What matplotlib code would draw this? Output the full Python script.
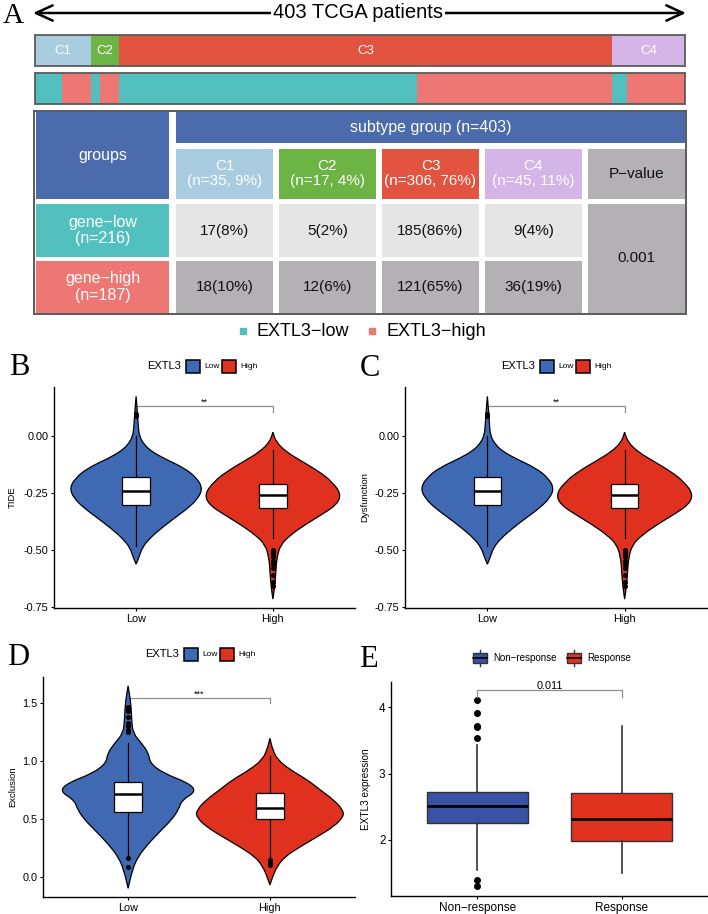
import matplotlib.pyplot as plt
from matplotlib.patches import Rectangle, PathPatch
from matplotlib.path import Path

plt.rcParams['font.family'] = ['Liberation Sans', 'DejaVu Sans']
plt.rcParams['axes.unicode_minus'] = False

# ---------------- panel A: subtype vs EXTL3 group
subtypes = ['C1', 'C2', 'C3', 'C4']
low_counts = [17, 5, 185, 9]
high_counts = [18, 12, 121, 36]
p_value = '0.001'

# ---------------- panels B / C: TIDE and Dysfunction (same shapes in figure)
groups = ['Low', 'High']
tide_low_y = [0.173, 0.10, 0.05, 0.0, -0.04, -0.069, -0.098, -0.142, -0.186, -0.230,
              -0.273, -0.317, -0.361, -0.405, -0.449, -0.49, -0.53, -0.563]
tide_low_dens = [0, .02, .03, .045, .12, .23, .40, .71, .89, .97,
                 .91, .76, .56, .37, .2, .09, .045, 0]
tide_high_y = [0.016, -0.025, -0.069, -0.113, -0.156, -0.200, -0.256, -0.303,
               -0.346, -0.390, -0.434, -0.478, -0.537, -0.595, -0.654, -0.716]
tide_high_dens = [0, .043, .186, .43, .67, .86, 1.0, .93, .71, .47, .26, .11, .057, .043, .029, 0]
tide_box_low = [-0.485, -0.303, -0.240, -0.181, 0.0]    # whislo, q1, med, q3, whishi
tide_box_high = [-0.449, -0.317, -0.260, -0.212, -0.061]
tide_out_low = [0.085, 0.095]
tide_out_high = [-0.50, -0.51, -0.52, -0.53, -0.55, -0.56, -0.58, -0.61, -0.64, -0.66]

# ---------------- panel D: Exclusion
excl_low_y = [1.65, 1.5, 1.356, 1.24, 1.154, 1.067, 0.981, 0.894, 0.808, 0.736,
              0.664, 0.577, 0.490, 0.404, 0.289, 0.173, 0.058, -0.101]
excl_low_dens = [0, .04, .05, .07, .19, .29, .31, .5, .86, .96,
                 .76, .71, .61, .47, .29, .14, .06, 0]
excl_high_y = [1.197, 1.096, 1.010, 0.923, 0.837, 0.750, 0.664, 0.577,
               0.519, 0.433, 0.346, 0.260, 0.173, 0.087, 0.0, -0.072]
excl_high_dens = [0, .04, .11, .29, .53, .71, .9, 1.03, 1.04, .9, .67, .43, .21, .1, .04, 0]
excl_box_low = [0.18, 0.557, 0.713, 0.822, 1.154]
excl_box_high = [0.173, 0.496, 0.597, 0.727, 1.04]
excl_out_low = [1.25, 1.27, 1.30, 1.33, 1.38, 1.43, 1.45, 1.47, 0.159, 0.08]
excl_out_high = [0.14, 0.13, 0.115, 0.10]

# ---------------- panel E: EXTL3 expression by response
resp_groups = ['Non\u2212response', 'Response']
resp_box_non = [1.548, 2.251, 2.513, 2.729, 3.43]
resp_box_res = [1.50, 1.985, 2.312, 2.709, 3.72]
resp_out_non = [4.11, 3.92, 3.72, 3.70, 3.53, 1.39, 1.31]
resp_out_res = []

# colours
teal, salmon = '#52C0BE', '#EE7773'
head_blue = '#4B6BAC'
sub_colors = ['#A9CCE0', '#6CB444', '#E25340', '#D5B4E7']
light_gray, mid_gray = '#E6E5E6', '#B3B1B3'
vio_blue, vio_red = '#3F69B3', '#E0301E'
box_blue, box_red = '#3A52A5', '#E0321F'

fig = plt.figure(figsize=(7.08, 9.14), dpi=100)
W, H = 708, 914
ov = fig.add_axes([0, 0, 1, 1])
ov.set_xlim(0, W)
ov.set_ylim(H, 0)
ov.axis('off')


def px_axes(l, t, r, b):
    return fig.add_axes([l / W, 1 - b / H, (r - l) / W, (b - t) / H])


# panel letters
for lab, x, y, fs in [('A', 3, 23, 21), ('B', 9, 375, 22), ('C', 360, 376, 22),
                      ('D', 7, 665, 22), ('E', 359, 667, 22)]:
    ov.text(x, y, lab, family='Liberation Serif', fontsize=fs, va='baseline', ha='left')

# ---- panel A
tot = [a + b for a, b in zip(low_counts, high_counts)]
N = sum(tot)
n_low, n_high = sum(low_counts), sum(high_counts)
bx0, bx1 = 35, 685
scale = (bx1 - bx0) / N

ov.annotate('', xy=(33, 13), xytext=(686, 13),
            arrowprops=dict(arrowstyle='<->,head_length=1.2,head_width=0.55', lw=1.8,
                            color='black', shrinkA=0, shrinkB=0, mutation_scale=10))
ov.text(358, 13, f'{N} TCGA patients', ha='center', va='center', fontsize=14.5,
        bbox=dict(fc='white', ec='none', pad=1.5))

left = bx0
for name, lo, n, col in zip(subtypes, low_counts, tot, sub_colors):
    ov.add_patch(Rectangle((left, 35), n * scale, 31, fc=col, ec='none'))
    ov.text(left + n * scale / 2, 51, name, color='white', ha='center', va='center', fontsize=9.5)
    ov.add_patch(Rectangle((left, 73), lo * scale, 31, fc=teal, ec='none'))
    ov.add_patch(Rectangle((left + lo * scale, 73), (n - lo) * scale, 31, fc=salmon, ec='none'))
    left += n * scale
for y in (35, 73):
    ov.add_patch(Rectangle((bx0, y), bx1 - bx0, 31, fill=False, ec='#5a5a5a', lw=1.3))


def cell(x, y, w, h, col, lines, tc, dy=7.5, fs=11):
    ov.add_patch(Rectangle((x, y), w, h, fc=col, ec='none'))
    cy = y + h / 2
    offs = [0] if len(lines) == 1 else [-dy, dy]
    for t, o in zip(lines, offs):
        ov.text(x + w / 2, cy + o, t, ha='center', va='center', color=tc, fontsize=fs)


ov.add_patch(Rectangle((34, 111), 652, 203, fill=False, ec='#4d4d4d', lw=1.3))
cell(36, 112, 133, 87, head_blue, ['groups'], 'white', fs=11.5)
cell(176, 112, 509, 31, head_blue, [f'subtype group (n={N})'], 'white', fs=11.5)
cols_x = [176 + 103 * i for i in range(4)]
for i, (x, name, n, col) in enumerate(zip(cols_x, subtypes, tot, sub_colors)):
    cell(x, 149, 97, 50, col, [name, f'(n={n}, {round(100 * n / N)}%)'], 'white')
    lo, hi = low_counts[i], high_counts[i]
    cell(x, 204, 97, 53, light_gray, [f'{lo}({round(100 * lo / n_low)}%)'], '#111')
    cell(x, 261, 97, 52, mid_gray, [f'{hi}({round(100 * hi / n_high)}%)'], '#111')
cell(588, 149, 97, 50, mid_gray, ['P\u2212value'], '#111')
cell(588, 204, 97, 109, mid_gray, [p_value], '#111')
cell(36, 204, 133, 53, teal, ['gene\u2212low', f'(n={n_low})'], 'white', dy=8.5, fs=11.5)
cell(36, 261, 133, 52, salmon, ['gene\u2212high', f'(n={n_high})'], 'white', dy=8.5, fs=11.5)

ov.plot([243], [331], 's', color=teal, ms=5)
ov.text(257, 331, 'EXTL3\u2212low', va='center', fontsize=13)
ov.plot([372], [331], 's', color=salmon, ms=5)
ov.text(386, 331, 'EXTL3\u2212high', va='center', fontsize=13)


# ---- legend rows for B-D
def group_legend(L, yc):
    ov.text(L, yc, 'EXTL3', va='center', fontsize=8)
    for dx, col, lab in [(39, vio_blue, groups[0]), (75, vio_red, groups[1])]:
        ov.add_patch(Rectangle((L + dx, yc - 6.5), 14, 13, fc=col, ec='black', lw=1.1))
        ov.text(L + dx + 18, yc, lab, va='center', fontsize=6)


def stats(b, fl):
    return dict(whislo=b[0], q1=b[1], med=b[2], q3=b[3], whishi=b[4], fliers=fl)


def style(ax, fs):
    for s in ('top', 'right'):
        ax.spines[s].set_visible(False)
    for s in ('left', 'bottom'):
        ax.spines[s].set_linewidth(1.0)
    ax.tick_params(length=2.5, width=0.8, labelsize=fs, pad=1.5, colors='black')
    ax.set_xlim(0.4, 2.6)


def smooth_outline(pos, y, d):
    # closed outline (right side down, left side up) drawn as quadratic curves
    w = [0.5 * v for v in d]
    pts = [(pos + a, b) for a, b in zip(w, y)] + [(pos - a, b) for a, b in zip(w[::-1], y[::-1])]
    mids = [((pts[k][0] + pts[k + 1][0]) / 2, (pts[k][1] + pts[k + 1][1]) / 2)
            for k in range(len(pts) - 1)]
    verts = [pts[0], mids[0]]
    codes = [Path.MOVETO, Path.LINETO]
    for k in range(1, len(pts) - 1):
        verts += [pts[k], mids[k]]
        codes += [Path.CURVE3, Path.CURVE3]
    verts += [pts[-1], pts[0]]
    codes += [Path.LINETO, Path.CLOSEPOLY]
    return Path(verts, codes)


def violin_panel(ax, vy, vd, boxes, outs, ylim, ticks, ticklabels, ylabel, lab_x, sig, sig_y, tip_y):
    for pos, y, d, col in zip([1, 2], vy, vd, [vio_blue, vio_red]):
        ax.add_patch(PathPatch(smooth_outline(pos, y, d), facecolor=col,
                               edgecolor='black', lw=0.9, zorder=1))
    ax.bxp([stats(b, o) for b, o in zip(boxes, outs)], positions=[1, 2], widths=0.2,
           patch_artist=True, showcaps=False,
           boxprops=dict(facecolor='white', edgecolor='black', lw=0.9),
           medianprops=dict(color='black', lw=1.8),
           whiskerprops=dict(color='black', lw=0.9),
           flierprops=dict(marker='o', mfc='black', mec='black', ms=2.6), zorder=2)
    ax.plot([1, 1, 2, 2], [tip_y, sig_y, sig_y, tip_y], color='#8f8f8f', lw=0.9, zorder=0)
    ax.text(1.5, sig_y + (ylim[1] - ylim[0]) * 0.006, sig, ha='center', va='baseline', fontsize=6.5)
    ax.set_ylim(*ylim)
    ax.set_yticks(ticks)
    ax.set_yticklabels(ticklabels)
    ax.set_xticks([1, 2])
    ax.set_xticklabels(groups)
    ax.set_ylabel(ylabel, fontsize=6.8)
    ax.yaxis.set_label_coords(lab_x, 0.5)
    style(ax, 7.8)


tide_ticks = [0.0, -0.25, -0.50, -0.75]
tide_labels = ['0.00', '-0.25', '-0.50', '-0.75']

axB = px_axes(54, 387, 355, 608)
violin_panel(axB, [tide_low_y, tide_high_y], [tide_low_dens, tide_high_dens],
             [tide_box_low, tide_box_high], [tide_out_low, tide_out_high],
             (-0.755, 0.214), tide_ticks, tide_labels, 'TIDE', -0.123, '**', 0.131, 0.105)
group_legend(147, 366)

axC = px_axes(405, 387, 707, 608)
violin_panel(axC, [tide_low_y, tide_high_y], [tide_low_dens, tide_high_dens],
             [tide_box_low, tide_box_high], [tide_out_low, tide_out_high],
             (-0.755, 0.214), tide_ticks, tide_labels, 'Dysfunction', -0.119, '**', 0.131, 0.105)
group_legend(501, 366)

axD = px_axes(43, 677, 355, 897)
violin_panel(axD, [excl_low_y, excl_high_y], [excl_low_dens, excl_high_dens],
             [excl_box_low, excl_box_high], [excl_out_low, excl_out_high],
             (-0.176, 1.727), [0.0, 0.5, 1.0, 1.5], ['0.0', '0.5', '1.0', '1.5'],
             'Exclusion', -0.083, '***', 1.543, 1.50)
group_legend(145, 654)

# ---- panel E
axE = px_axes(391, 682, 708, 896)
bp = axE.bxp([stats(resp_box_non, resp_out_non), stats(resp_box_res, resp_out_res)],
             positions=[1, 2], widths=0.7, patch_artist=True, showcaps=False,
             boxprops=dict(edgecolor='#333333', lw=1.0),
             medianprops=dict(color='black', lw=2.0),
             whiskerprops=dict(color='#333333', lw=1.2),
             flierprops=dict(marker='o', mfc='black', mec='black', ms=4))
for patch, col in zip(bp['boxes'], [box_blue, box_red]):
    patch.set_facecolor(col)
axE.plot([1, 1, 2, 2], [4.16, 4.26, 4.26, 4.16], color='#8f8f8f', lw=0.9)
axE.text(1.5, 4.275, '0.011', ha='center', va='baseline', fontsize=7.8)
axE.set_ylim(1.155, 4.38)
axE.set_yticks([2, 3, 4])
axE.set_xticks([1, 2])
axE.set_xticklabels(resp_groups)
axE.set_ylabel('EXTL3 expression', fontsize=7.2)
axE.yaxis.set_label_coords(-0.063, 0.5)
style(axE, 8.5)

# legend for E (boxplot keys)
for x, col, lab in [(473, box_blue, resp_groups[0]), (567, box_red, resp_groups[1])]:
    ov.add_patch(Rectangle((x, 653), 14, 10, fc=col, ec='#333333', lw=1.0))
    ov.plot([x, x + 14], [658, 658], color='black', lw=1.2)
    ov.plot([x + 7, x + 7], [650, 653], color='#333333', lw=1.0)
    ov.plot([x + 7, x + 7], [663, 666], color='#333333', lw=1.0)
    ov.text(x + 20, 658, lab, va='center', fontsize=7)

fig.savefig('out.png', dpi=100)
